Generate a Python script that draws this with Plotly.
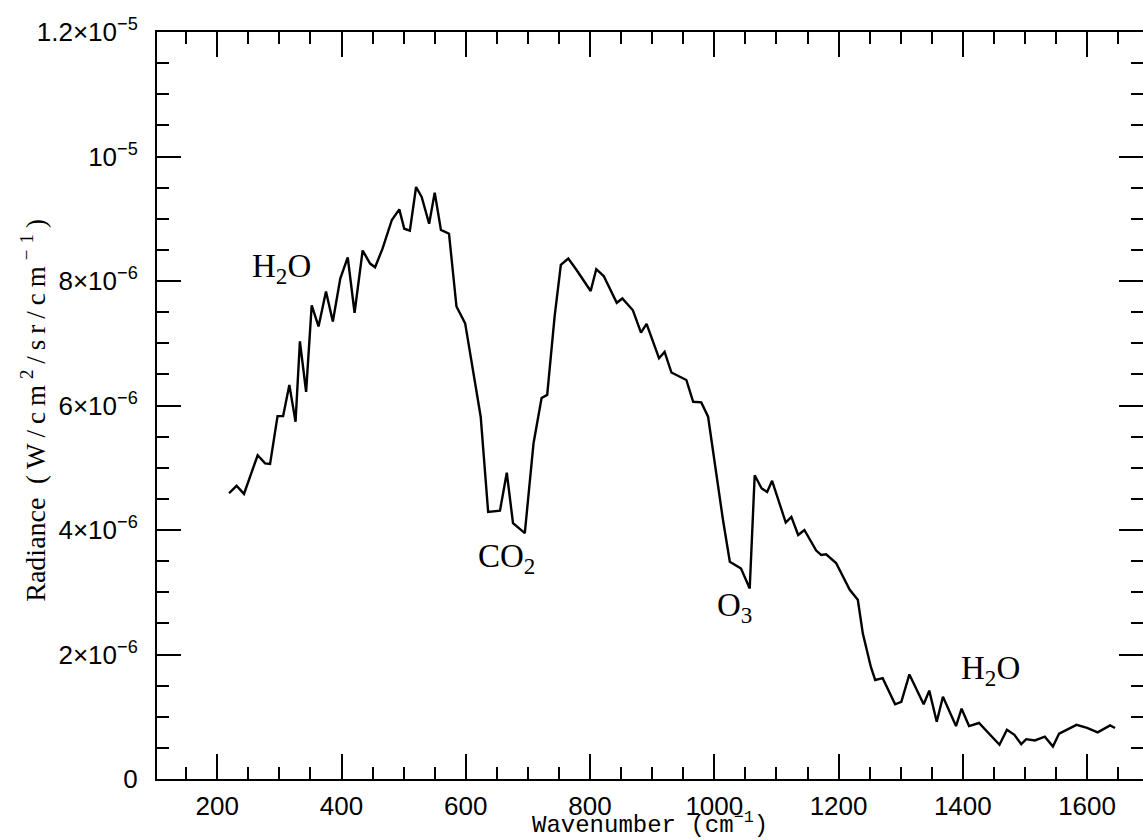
import plotly.graph_objects as go

# ---- data ----
wavenumber = [219, 231, 243, 265, 277, 285, 297, 306, 316, 326, 333, 343, 352, 363, 375,
              386, 398, 410, 421, 434, 446, 454, 466, 481, 493, 501, 510, 520, 529, 541,
              550, 560, 573, 585, 599, 612, 624, 636, 655, 666, 676, 695, 709, 722, 731,
              743, 753, 765, 778, 801, 810, 822, 843, 852, 869, 882, 891, 911, 920, 931,
              955, 966, 979, 990, 1001, 1014, 1025, 1043, 1057, 1065, 1076, 1085, 1093,
              1115, 1124, 1135, 1145, 1164, 1172, 1180, 1196, 1218, 1231, 1239, 1252,
              1259, 1271, 1291, 1301, 1314, 1337, 1346, 1358, 1368, 1389, 1398, 1410,
              1426, 1459, 1471, 1483, 1494, 1502, 1516, 1532, 1545, 1555, 1583, 1600,
              1617, 1637, 1645]
radiance_1e6 = [4.59, 4.71, 4.58, 5.20, 5.07, 5.06, 5.83, 5.83, 6.33, 5.74, 7.03, 6.22, 7.61,
                7.27, 7.83, 7.35, 8.04, 8.38, 7.49, 8.49, 8.28, 8.22, 8.52, 8.98, 9.15, 8.84,
                8.81, 9.51, 9.35, 8.92, 9.42, 8.82, 8.76, 7.59, 7.32, 6.52, 5.82, 4.29, 4.31,
                4.92, 4.11, 3.95, 5.39, 6.12, 6.17, 7.43, 8.26, 8.36, 8.18, 7.84, 8.19, 8.08,
                7.65, 7.72, 7.53, 7.17, 7.31, 6.76, 6.86, 6.53, 6.41, 6.06, 6.05, 5.82, 5.02,
                4.16, 3.49, 3.38, 3.06, 4.88, 4.67, 4.61, 4.79, 4.12, 4.21, 3.92, 4.00, 3.67,
                3.60, 3.61, 3.47, 3.04, 2.88, 2.34, 1.80, 1.59, 1.62, 1.20, 1.24, 1.68, 1.20,
                1.42, 0.92, 1.32, 0.85, 1.13, 0.85, 0.90, 0.55, 0.79, 0.71, 0.56, 0.64, 0.62,
                0.68, 0.52, 0.73, 0.87, 0.82, 0.75, 0.86, 0.82]
radiance = [v * 1e-6 for v in radiance_1e6]

x_tick_vals = [200, 400, 600, 800, 1000, 1200, 1400, 1600]
x_tick_text = ["200", "400", "600", "800", "1000", "1200", "1400", "1600"]
y_tick_vals = [0, 2e-6, 4e-6, 6e-6, 8e-6, 1e-5, 1.2e-5]
y_tick_text = ["0", "2×10<sup>−6</sup>", "4×10<sup>−6</sup>", "6×10<sup>−6</sup>",
               "8×10<sup>−6</sup>", "10<sup>−5</sup>", "1.2×10<sup>−5</sup>"]

labels = ["H<sub>2</sub>O", "CO<sub>2</sub>", "O<sub>3</sub>", "H<sub>2</sub>O"]
label_x = [304, 665, 1033, 1444]
label_y = [8.20e-6, 3.55e-6, 2.75e-6, 1.74e-6]

x_title = "Wavenumber (cm<sup>−1</sup>)"
y_title = ('<span style="font-size:28px">Radiance</span>&nbsp; '
           '<span style="letter-spacing:6px">(W/cm<sup>2</sup>/sr/cm<sup>−1</sup>)</span>')

fig = go.Figure()
fig.add_trace(go.Scatter(x=wavenumber, y=radiance, mode="lines",
                         line=dict(color="black", width=2.4), hoverinfo="skip"))

axis_common = dict(showline=True, linecolor="black", linewidth=2, mirror="ticks",
                   ticks="inside", tickcolor="black", tickwidth=2,
                   showgrid=False, zeroline=False, automargin=False)

fig.update_xaxes(range=[103, 1690], tickmode="array", tickvals=x_tick_vals,
                 ticktext=x_tick_text, ticklen=25,
                 tickfont=dict(family="Liberation Sans", size=26, color="black"),
                 minor=dict(dtick=50, tick0=0, ticks="inside", ticklen=12,
                            tickwidth=2, tickcolor="black", showgrid=False),
                 ticklabelstandoff=3,
                 **axis_common)
fig.update_yaxes(range=[0, 1.2e-5], tickmode="array", tickvals=y_tick_vals,
                 ticktext=y_tick_text, ticklen=24,
                 tickfont=dict(family="Liberation Sans", size=26, color="black"),
                 minor=dict(dtick=5e-7, tick0=0, ticks="inside", ticklen=12,
                            tickwidth=2, tickcolor="black", showgrid=False),
                 ticklabelstandoff=12,
                 **axis_common)

for t, lx, ly in zip(labels, label_x, label_y):
    fig.add_annotation(x=lx, y=ly, xref="x", yref="y", text=t, showarrow=False,
                       font=dict(family="Liberation Serif", size=33, color="black"),
                       xanchor="center", yanchor="middle")

fig.add_annotation(x=0.5, y=-(840 - 779) / 747, xref="paper", yref="paper",
                   text=x_title, showarrow=False, xanchor="center", yanchor="bottom",
                   borderpad=0,
                   font=dict(family="Liberation Mono", size=24, color="black"))
fig.add_annotation(x=(33 - 157) / 986, y=0.497, xref="paper", yref="paper",
                   text=y_title, showarrow=False, textangle=-90,
                   xanchor="center", yanchor="middle",
                   font=dict(family="Liberation Serif", size=27, color="black"))

fig.update_layout(width=1143, height=840, margin=dict(l=157, r=0, t=32, b=61),
                  paper_bgcolor="white", plot_bgcolor="white", showlegend=False)

fig.write_html("out.html")
